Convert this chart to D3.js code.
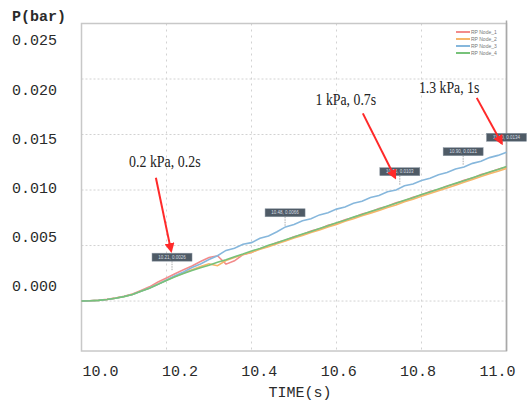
<!DOCTYPE html>
<html>
<head>
<meta charset="utf-8">
<script src="https://cdn.jsdelivr.net/npm/d3@7"></script>
<style>
  body { margin: 0; background: #fff; }
  svg { display: block; }
</style>
</head>
<body>
<svg id="chart" width="527" height="407"></svg>
<script>
// sample times (s)
const times = [
  10.00, 10.02, 10.04, 10.06, 10.08, 10.10, 10.12, 10.14, 10.16, 10.18,
  10.20, 10.22, 10.24, 10.26, 10.28, 10.30, 10.32, 10.34, 10.36, 10.38,
  10.40, 10.42, 10.44, 10.46, 10.48, 10.50, 10.52, 10.54, 10.56, 10.58,
  10.60, 10.62, 10.64, 10.66, 10.68, 10.70, 10.72, 10.74, 10.76, 10.78,
  10.80, 10.82, 10.84, 10.86, 10.88, 10.90, 10.92, 10.94, 10.96, 10.98, 11.00]

// pressure (bar) per probe
const node1 = [
  0.00000, 0.00002, 0.00007, 0.00015, 0.00027, 0.00043, 0.00063, 0.00095, 0.00128, 0.00172,
  0.00208, 0.00246, 0.00281, 0.00315, 0.00356, 0.00392, 0.00408, 0.00332, 0.00362, 0.00418,
  0.00438, 0.00472, 0.00496, 0.00527, 0.00548, 0.00579, 0.00600, 0.00630, 0.00650, 0.00682,
  0.00700, 0.00733, 0.00752, 0.00784, 0.00802, 0.00834, 0.00853, 0.00885, 0.00903, 0.00935,
  0.00955, 0.00986, 0.01005, 0.01037, 0.01057, 0.01087, 0.01107, 0.01139, 0.01158, 0.01188, 0.01208]
const node2 = [
  0.00000, 0.00002, 0.00006, 0.00014, 0.00026, 0.00041, 0.00060, 0.00090, 0.00118, 0.00153,
  0.00190, 0.00222, 0.00252, 0.00282, 0.00310, 0.00335, 0.00318, 0.00365, 0.00392, 0.00420,
  0.00440, 0.00466, 0.00490, 0.00517, 0.00540, 0.00567, 0.00590, 0.00617, 0.00640, 0.00668,
  0.00690, 0.00718, 0.00741, 0.00768, 0.00792, 0.00816, 0.00843, 0.00866, 0.00894, 0.00916,
  0.00943, 0.00968, 0.00993, 0.01019, 0.01044, 0.01070, 0.01095, 0.01121, 0.01146, 0.01170, 0.01195]
const node3 = [
  0.00000, 0.00002, 0.00006, 0.00014, 0.00025, 0.00041, 0.00059, 0.00089, 0.00118, 0.00152,
  0.00190, 0.00228, 0.00262, 0.00302, 0.00333, 0.00374, 0.00408, 0.00456, 0.00476, 0.00512,
  0.00526, 0.00566, 0.00586, 0.00624, 0.00668, 0.00690, 0.00724, 0.00742, 0.00776, 0.00796,
  0.00828, 0.00848, 0.00880, 0.00899, 0.00932, 0.00951, 0.00984, 0.01000, 0.01038, 0.01054,
  0.01086, 0.01106, 0.01137, 0.01157, 0.01190, 0.01208, 0.01240, 0.01259, 0.01292, 0.01312, 0.01340]
const node4 = [
  0.00000, 0.00002, 0.00006, 0.00014, 0.00025, 0.00040, 0.00058, 0.00088, 0.00115, 0.00150,
  0.00185, 0.00218, 0.00248, 0.00275, 0.00300, 0.00323, 0.00350, 0.00372, 0.00400, 0.00424,
  0.00451, 0.00474, 0.00502, 0.00525, 0.00553, 0.00576, 0.00603, 0.00627, 0.00654, 0.00678,
  0.00705, 0.00728, 0.00756, 0.00779, 0.00806, 0.00830, 0.00857, 0.00881, 0.00907, 0.00931,
  0.00959, 0.00982, 0.01009, 0.01033, 0.01060, 0.01084, 0.01111, 0.01135, 0.01162, 0.01185, 0.01212]

const seriesNames = ["RP Node_1", "RP Node_2", "RP Node_3", "RP Node_4"]
const seriesColors = ["#f28b8b", "#f6b66a", "#86b7dc", "#77c27a"]

const xTicks = [10.0, 10.2, 10.4, 10.6, 10.8, 11.0]
const yTicks = [0.000, 0.005, 0.010, 0.015, 0.020, 0.025]
const xGrid = [10.2, 10.4, 10.6, 10.8]
const yGrid = [0.000, 0.005, 0.010, 0.015, 0.020]

// data tip boxes on the curves
const tipTimes = [10.213, 10.479, 10.749, 10.898, 11.0]
const tipValues = [0.0026, 0.0066, 0.0103, 0.0121, 0.0134]
const tipTexts = ["10.21, 0.0026", "10.48, 0.0066", "10.75, 0.0103", "10.90, 0.0121", "11.00, 0.0134"]

// red call-outs
const noteTexts = ["0.2 kPa, 0.2s", "1 kPa, 0.7s", "1.3 kPa, 1s"]
const noteTimes = [10.196, 10.622, 10.865]
const noteValues = [0.0121, 0.0177, 0.0187]
const arrowFrom = [[10.175, 0.0111], [10.662, 0.0169], [10.930, 0.0183]]
const arrowTo = [[10.211, 0.0045], [10.738, 0.0111], [10.989, 0.0142]]

const svg = d3.select("#chart")

const x = d3.scaleLinear().domain([10, 11]).range([81.5, 506.5])
const y = d3.scaleLinear().domain([-0.0045, 0.025]).range([351, 23.5])
// tick labels in the source sit on their own spacing, not on the grid
const xLabel = d3.scaleLinear().domain([10, 11]).range([100, 497])
const yLabel = d3.scaleLinear().domain([0, 0.025]).range([286, 40])

svg.append("defs").append("marker")
  .attr("id", "arrowhead")
  .attr("viewBox", "0 0 10 10")
  .attr("refX", 8).attr("refY", 5)
  .attr("markerWidth", 5).attr("markerHeight", 5)
  .attr("orient", "auto")
  .append("path").attr("d", "M0,0 L10,5 L0,10 z").attr("fill", "#ff2a2a")

// grid
const grid = svg.append("g")
grid.selectAll("line.h").data(yGrid).join("line")
  .attr("class", "h")
  .attr("x1", x(10)).attr("x2", x(11))
  .attr("y1", d => y(d)).attr("y2", d => y(d))
  .attr("stroke", "#d2d2d2").attr("stroke-width", 1).attr("stroke-dasharray", "2,2")
grid.selectAll("line.v").data(xGrid).join("line")
  .attr("class", "v")
  .attr("x1", d => x(d)).attr("x2", d => x(d))
  .attr("y1", y(0.025)).attr("y2", y(-0.0045))
  .attr("stroke", "#d2d2d2").attr("stroke-width", 1).attr("stroke-dasharray", "2,4")

// frame
svg.append("rect")
  .attr("x", x(10)).attr("y", y(0.025))
  .attr("width", x(11) - x(10)).attr("height", y(-0.0045) - y(0.025))
  .attr("fill", "none").attr("stroke", "#c8c8c8").attr("stroke-width", 1.5)
svg.append("line")
  .attr("x1", x(11)).attr("x2", x(11)).attr("y1", y(0.025) - 3).attr("y2", y(-0.0045))
  .attr("stroke", "#a8a8a8").attr("stroke-width", 1.5)

// axes labels
const yAxis = svg.append("g").attr("transform", "translate(57,0)")
  .call(d3.axisLeft(yLabel).tickValues(yTicks).tickFormat(d3.format(".3f")).tickSize(0).tickPadding(0))
yAxis.select(".domain").remove()
yAxis.selectAll("text")
  .attr("font-family", "'Liberation Mono', monospace").attr("font-size", 15).attr("fill", "#2a2a2a")

const xAxis = svg.append("g").attr("transform", "translate(0,365)")
  .call(d3.axisBottom(xLabel).tickValues(xTicks).tickFormat(d3.format(".1f")).tickSize(0).tickPadding(0))
xAxis.select(".domain").remove()
xAxis.selectAll("text")
  .attr("font-family", "'Liberation Mono', monospace").attr("font-size", 15).attr("fill", "#2a2a2a")

svg.append("text").attr("x", 12).attr("y", 21).text("P(bar)")
  .attr("font-family", "'Liberation Mono', monospace").attr("font-size", 15)
  .attr("font-weight", "bold").attr("fill", "#2a2a2a")
svg.append("text").attr("x", 300).attr("y", 397).attr("text-anchor", "middle").text("TIME(s)")
  .attr("font-family", "'Liberation Mono', monospace").attr("font-size", 15).attr("fill", "#2a2a2a")

// lines
const seriesValues = [node1, node2, node3, node4]
const line = d3.line().x(d => x(d[0])).y(d => y(d[1]))
svg.append("g").selectAll("path").data(seriesValues).join("path")
  .attr("d", vals => line(times.map((t, i) => [t, vals[i]])))
  .attr("fill", "none")
  .attr("stroke", (d, i) => seriesColors[i])
  .attr("stroke-width", 1.6)

// legend
const legend = svg.append("g")
const legendY = d3.scalePoint().domain(seriesNames).range([32, 53])
legend.selectAll("line").data(seriesNames).join("line")
  .attr("x1", 456).attr("x2", 470)
  .attr("y1", d => legendY(d)).attr("y2", d => legendY(d))
  .attr("stroke", (d, i) => seriesColors[i]).attr("stroke-width", 2)
legend.selectAll("text").data(seriesNames).join("text")
  .attr("x", 471).attr("y", d => legendY(d) + 2)
  .attr("font-family", "'Liberation Sans', sans-serif").attr("font-size", 5).attr("fill", "#777")
  .text(d => d)

// data tips
const tips = svg.append("g").selectAll("g").data(tipTimes).join("g")
  .attr("transform", (d, i) => `translate(${x(d)},${y(tipValues[i])})`)
tips.append("line")
  .attr("x1", 0).attr("x2", 0).attr("y1", -11).attr("y2", -1)
  .attr("stroke", "#aaa").attr("stroke-width", 1).attr("stroke-dasharray", "1.5,1")
tips.append("rect")
  .attr("x", -20).attr("y", -19).attr("width", 40).attr("height", 8)
  .attr("fill", "#4f5b66").attr("stroke", "#8a96a2").attr("stroke-width", 0.5)
tips.append("text")
  .attr("x", 0).attr("y", -13.3).attr("text-anchor", "middle")
  .attr("font-family", "'Liberation Sans', sans-serif").attr("font-size", 4.5).attr("fill", "#d8dee4")
  .text((d, i) => tipTexts[i])

// call-outs
const notes = svg.append("g")
notes.selectAll("line").data(arrowFrom).join("line")
  .attr("x1", d => x(d[0])).attr("y1", d => y(d[1]))
  .attr("x2", (d, i) => x(arrowTo[i][0])).attr("y2", (d, i) => y(arrowTo[i][1]))
  .attr("stroke", "#ff2a2a").attr("stroke-width", 2)
  .attr("marker-end", "url(#arrowhead)")
notes.selectAll("text").data(noteTexts).join("text")
  .attr("x", (d, i) => x(noteTimes[i])).attr("y", (d, i) => y(noteValues[i]))
  .attr("text-anchor", "middle")
  .attr("font-family", "'Liberation Serif', serif").attr("font-size", 16)
  .attr("textLength", d => d.length * 5.5).attr("lengthAdjust", "spacingAndGlyphs")
  .attr("fill", "#222")
  .text(d => d)
</script>
</body>
</html>
